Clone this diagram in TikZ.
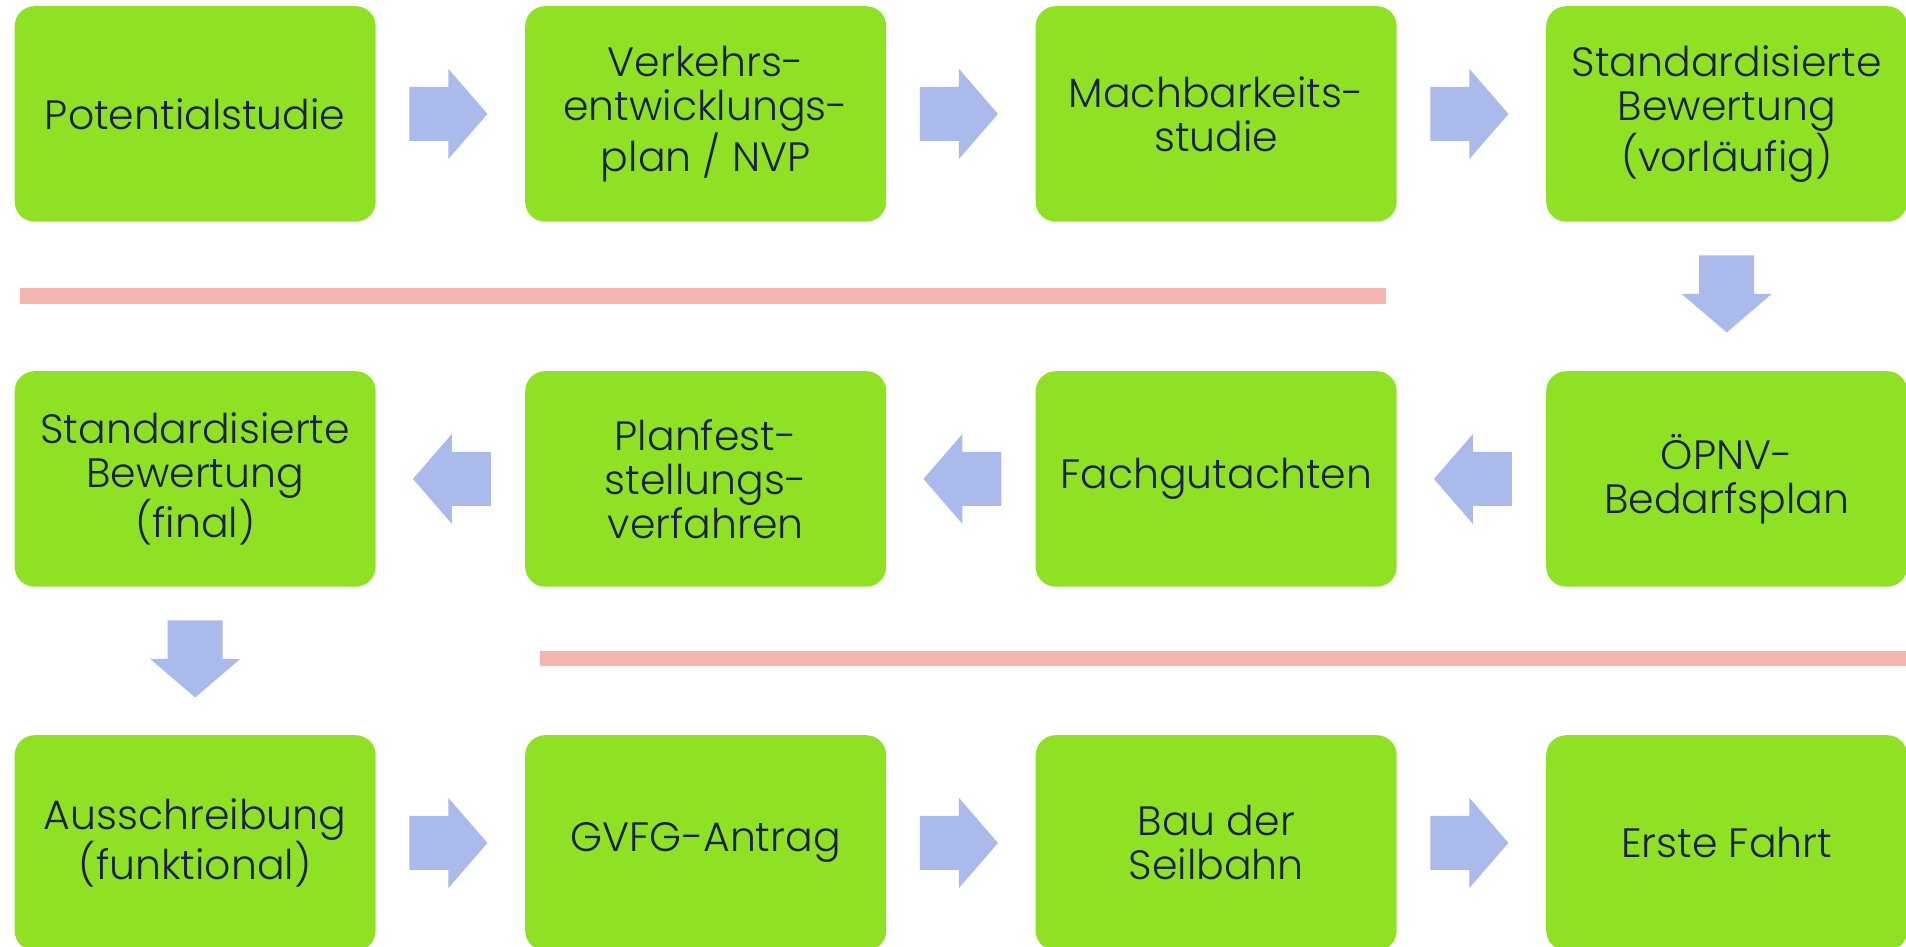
\documentclass[tikz,border=0pt]{standalone}
\usepackage{fontspec}
\setmainfont{Poppins Light}
\usetikzlibrary{calc}
\definecolor{boxgreen}{RGB}{143,226,35}
\definecolor{arrowblue}{RGB}{170,187,235}
\definecolor{barpink}{RGB}{244,182,174}
\definecolor{textnavy}{RGB}{28,33,72}
\tikzset{
  stepbox/.style={fill=boxgreen, rounded corners=20pt, minimum width=361pt,
    minimum height=215.5pt, inner sep=0pt, text=textnavy, align=center,
    font=\fontsize{41}{44}\selectfont, anchor=north west},
  divider/.style={fill=barpink},
  rarrow/.pic={\fill[arrowblue] (-39,-27) -- (0,-27) -- (0,-45) -- (39,0) -- (0,45) -- (0,27) -- (-39,27) -- cycle;},
  larrow/.pic={\fill[arrowblue] (39,-27) -- (0,-27) -- (0,-45) -- (-39,0) -- (0,45) -- (0,27) -- (39,27) -- cycle;},
  darrow/.pic={\fill[arrowblue] (-27.5,-38.5) -- (-27.5,0) -- (-45,0) -- (0,38.5) -- (45,0) -- (27.5,0) -- (27.5,-38.5) -- cycle;}
}
\begin{document}
\begin{tikzpicture}[x=1pt,y=-1pt]
\useasboundingbox (0,0) rectangle (1906,947);
\clip (0,0) rectangle (1906,947);
\fill[white] (0,0) rectangle (1906,947);
% row 1
\node[stepbox] (a1) at (14.5,6) {Potentialstudie};
\node[stepbox] (a2) at (525,6) {Verkehrs-\\entwicklungs-\\plan / NVP};
\node[stepbox] (a3) at (1035.5,6) {Machbarkeits-\\studie};
\node[stepbox] (a4) at (1546,6) {Standardisierte\\Bewertung\\(vorläufig)};
% row 2
\node[stepbox] (b1) at (14.5,371) {Standardisierte\\Bewertung\\(final)};
\node[stepbox] (b2) at (525,371) {Planfest-\\stellungs-\\verfahren};
\node[stepbox] (b3) at (1035.5,371) {Fachgutachten};
\node[stepbox] (b4) at (1546,371) {ÖPNV-\\Bedarfsplan};
% row 3
\node[stepbox] (c1) at (14.5,735) {Ausschreibung\\(funktional)};
\node[stepbox] (c2) at (525,735) {GVFG-Antrag};
\node[stepbox] (c3) at (1035.5,735) {Bau der\\Seilbahn};
\node[stepbox] (c4) at (1546,735) {Erste Fahrt};
% dividers
\fill[divider] (19.5,288) rectangle (1386,304);
\fill[divider] (540,651) rectangle (1906,666);
% arrows row 1
\pic at ($(a1.east)!0.5!(a2.west)+(-2,0)$) {rarrow};
\pic at ($(a2.east)!0.5!(a3.west)+(-2,0)$) {rarrow};
\pic at ($(a3.east)!0.5!(a4.west)+(-2,0)$) {rarrow};
\pic at ($(a4.south)!0.5!(b4.north)+(0,-2.5)$) {darrow};
% arrows row 2
\pic at ($(b4.west)!0.5!(b3.east)+(1.5,0)$) {larrow};
\pic at ($(b3.west)!0.5!(b2.east)+(1.5,0)$) {larrow};
\pic at ($(b2.west)!0.5!(b1.east)+(1.5,0)$) {larrow};
\pic at ($(b1.south)!0.5!(c1.north)+(0,-2)$) {darrow};
% arrows row 3
\pic at ($(c1.east)!0.5!(c2.west)+(-2,0)$) {rarrow};
\pic at ($(c2.east)!0.5!(c3.west)+(-2,0)$) {rarrow};
\pic at ($(c3.east)!0.5!(c4.west)+(-2,0)$) {rarrow};
\end{tikzpicture}
\end{document}
